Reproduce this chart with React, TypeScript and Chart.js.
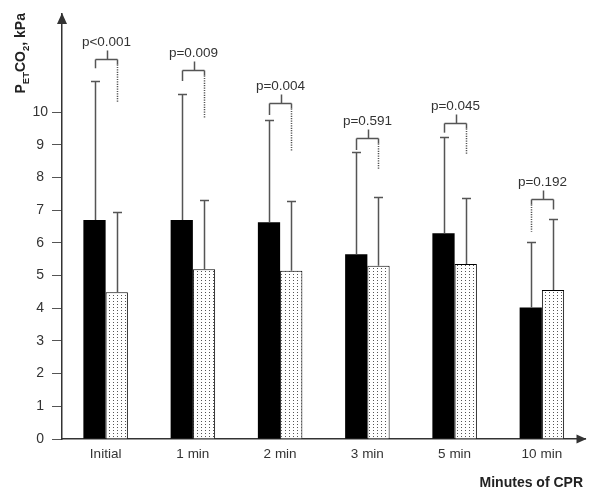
import React, { useEffect, useRef } from 'react';
import { Chart, registerables } from 'chart.js';

Chart.register(...registerables);

// ---- data ----
const categories = ['Initial', '1 min', '2 min', '3 min', '5 min', '10 min'];
const groupAMeans = [6.70, 6.70, 6.63, 5.65, 6.29, 4.02];
const groupASD = [4.25, 3.84, 3.13, 3.12, 2.95, 2.00];
const groupBMeans = [4.49, 5.19, 5.15, 5.30, 5.35, 4.56];
const groupBSD = [2.46, 2.11, 2.14, 2.11, 2.01, 2.16];
const pLabels = ['p<0.001', 'p=0.009', 'p=0.004', 'p=0.591', 'p=0.045', 'p=0.192'];
const bracketLevel = [11.62, 11.28, 10.27, 9.20, 9.67, 7.34];
const bracketLeftEnd = [11.34, 10.95, 9.91, 8.84, 9.37, 6.34];
const bracketRightEnd = [10.31, 9.83, 8.79, 8.25, 8.69, 7.02];
const dottedSide = ['right', 'right', 'right', 'right', 'right', 'left'];
const yTicks = [0, 1, 2, 3, 4, 5, 6, 7, 8, 9, 10];
const yMax = 13;

const FONT = '"Liberation Sans", Arial, Helvetica, sans-serif';
const LINE = '#555';
const TEXT = '#333';

function makePattern(): CanvasPattern | string {
  const c = document.createElement('canvas');
  c.width = 4;
  c.height = 3;
  const g = c.getContext('2d');
  if (!g) return '#eee';
  g.fillStyle = '#fff';
  g.fillRect(0, 0, 4, 3);
  g.fillStyle = '#555';
  g.fillRect(1, 1, 1, 1);
  return g.createPattern(c, 'repeat') || '#eee';
}

const overlayPlugin = {
  id: 'overlay',
  afterDatasetsDraw(chart: any) {
    const ctx: CanvasRenderingContext2D = chart.ctx;
    const ys = chart.scales.y;
    const metaA = chart.getDatasetMeta(0);
    const metaB = chart.getDatasetMeta(1);
    ctx.save();
    ctx.strokeStyle = LINE;
    ctx.lineWidth = 1.5;
    const sets: [any, number[], number[]][] = [
      [metaA, groupAMeans, groupASD],
      [metaB, groupBMeans, groupBSD],
    ];
    sets.forEach(([meta, means, sds]) => {
      means.forEach((m, j) => {
        const el = meta.data[j];
        const x = Math.round(el.x) + 0.5;
        const yb = ys.getPixelForValue(m);
        const yt = Math.round(ys.getPixelForValue(m + sds[j])) + 0.5;
        ctx.beginPath();
        ctx.moveTo(x, yb);
        ctx.lineTo(x, yt);
        ctx.moveTo(x - 4.5, yt);
        ctx.lineTo(x + 4.5, yt);
        ctx.stroke();
      });
    });
    // brackets
    categories.forEach((_, j) => {
      const xl = Math.round(metaA.data[j].x) + 0.5;
      const xr = Math.round(metaB.data[j].x) + 0.5;
      const xc = Math.round((xl + xr) / 2) + 0.5;
      const yb = Math.round(ys.getPixelForValue(bracketLevel[j])) + 0.5;
      const yl = ys.getPixelForValue(bracketLeftEnd[j]);
      const yr = ys.getPixelForValue(bracketRightEnd[j]);
      ctx.setLineDash([]);
      ctx.beginPath();
      ctx.moveTo(xl, yb);
      ctx.lineTo(xr, yb);
      ctx.moveTo(xc, yb);
      ctx.lineTo(xc, yb - 9);
      ctx.stroke();
      const drawDrop = (x: number, yEnd: number, dotted: boolean) => {
        if (dotted) {
          ctx.beginPath();
          ctx.moveTo(x, yb);
          ctx.lineTo(x, yb + 5);
          ctx.stroke();
          ctx.setLineDash([1.2, 1.2]);
          ctx.beginPath();
          ctx.moveTo(x, yb + 5);
          ctx.lineTo(x, yEnd);
          ctx.stroke();
          ctx.setLineDash([]);
        } else {
          ctx.beginPath();
          ctx.moveTo(x, yb);
          ctx.lineTo(x, yEnd);
          ctx.stroke();
        }
      };
      drawDrop(xl, yl, dottedSide[j] === 'left');
      drawDrop(xr, yr, dottedSide[j] === 'right');
      ctx.fillStyle = TEXT;
      ctx.font = `13.5px ${FONT}`;
      ctx.textAlign = 'center';
      ctx.textBaseline = 'middle';
      ctx.fillText(pLabels[j], (xl + xr) / 2, yb - 17);
    });
    ctx.restore();
  },
  afterDraw(chart: any) {
    const ctx: CanvasRenderingContext2D = chart.ctx;
    const area = chart.chartArea;
    ctx.save();
    ctx.fillStyle = '#333';
    // y arrow
    const ax = area.left;
    ctx.beginPath();
    ctx.moveTo(ax, area.top - 1);
    ctx.lineTo(ax - 5, area.top + 10);
    ctx.lineTo(ax + 5, area.top + 10);
    ctx.closePath();
    ctx.fill();
    // x arrow
    const by = area.bottom;
    ctx.beginPath();
    ctx.moveTo(area.right + 1, by);
    ctx.lineTo(area.right - 9, by - 4.5);
    ctx.lineTo(area.right - 9, by + 4.5);
    ctx.closePath();
    ctx.fill();
    // x title
    ctx.fillStyle = '#222';
    ctx.font = `bold 14px ${FONT}`;
    ctx.textAlign = 'right';
    ctx.textBaseline = 'middle';
    ctx.fillText('Minutes of CPR', 583, 483);
    // y title (rotated, with subscripts)
    ctx.translate(25, 93.5);
    ctx.rotate(-Math.PI / 2);
    ctx.textAlign = 'left';
    ctx.textBaseline = 'alphabetic';
    const parts: [string, boolean][] = [
      ['P', false],
      ['ET', true],
      ['CO', false],
      ['2', true],
      [', kPa', false],
    ];
    let x = 0;
    parts.forEach(([t, sub]) => {
      ctx.font = sub ? `bold 9.5px ${FONT}` : `bold 14px ${FONT}`;
      ctx.fillText(t, x, sub ? 4 : 0);
      x += ctx.measureText(t).width;
    });
    ctx.restore();
  },
};

export default function App() {
  const ref = useRef<HTMLCanvasElement | null>(null);
  useEffect(() => {
    document.body.style.margin = '0';
    const canvas = ref.current;
    if (!canvas) return;
    const pattern = makePattern();
    const chart = new Chart(canvas, {
      type: 'bar',
      data: {
        labels: categories,
        datasets: [
          {
            label: 'A',
            data: groupAMeans,
            backgroundColor: '#000',
            borderWidth: 0,
            barPercentage: 1,
            categoryPercentage: 0.51,
          },
          {
            label: 'B',
            data: groupBMeans,
            backgroundColor: pattern as any,
            borderColor: '#000',
            borderWidth: 1,
            barPercentage: 1,
            categoryPercentage: 0.51,
          },
        ],
      },
      options: {
        responsive: false,
        animation: false,
        devicePixelRatio: 1,
        layout: { padding: { top: 14, right: 14.5, bottom: 0, left: 0 } },
        plugins: {
          legend: { display: false },
          tooltip: { enabled: false },
          title: { display: false },
        },
        scales: {
          x: {
            type: 'category',
            offset: true,
            grid: { display: true, drawOnChartArea: false, drawTicks: false },
            border: { display: true, color: '#333', width: 1.5 },
            ticks: {
              color: TEXT,
              font: { family: FONT, size: 13.5 },
              padding: 7,
              maxRotation: 0,
              autoSkip: false,
            },
            afterFit(scale: any) {
              scale.height = 60;
            },
          },
          y: {
            type: 'linear',
            min: 0,
            max: yMax,
            grid: {
              display: true,
              drawOnChartArea: false,
              drawTicks: true,
              tickLength: 10,
              color: '#555',
              lineWidth: 1,
            },
            border: { display: true, color: '#333', width: 1.5 },
            ticks: {
              color: TEXT,
              font: { family: FONT, size: 14 },
              padding: 4,
              crossAlign: 'center',
            },
            afterBuildTicks(scale: any) {
              scale.ticks = yTicks.map((v) => ({ value: v }));
            },
            afterFit(scale: any) {
              scale.width = 62;
            },
          },
        },
      },
      plugins: [overlayPlugin],
    });
    return () => chart.destroy();
  }, []);
  return <canvas ref={ref} width={600} height={499} style={{ display: 'block' }} />;
}
